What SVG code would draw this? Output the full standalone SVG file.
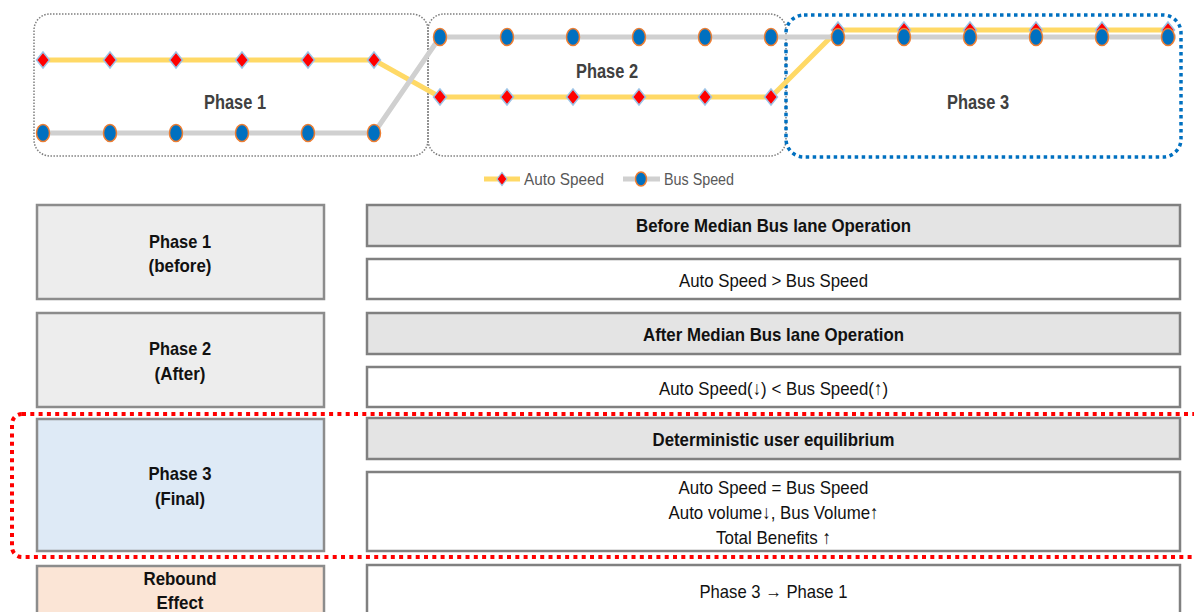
<svg xmlns="http://www.w3.org/2000/svg" width="1194" height="612" viewBox="0 0 1194 612">
<style>
.phbox{fill:none;stroke:#7f7f7f;stroke-width:1.5;stroke-dasharray:1.5 1.5}
.ph3box{fill:none;stroke:#0070C0;stroke-width:3.5;stroke-dasharray:3.5 3.5}
.plabel{font-family:"Liberation Sans",Arial,sans-serif;font-weight:bold;font-size:20px;fill:#404040;text-anchor:middle}
.auto{fill:none;stroke:#FFD966;stroke-width:5}
.bus{fill:none;stroke:#D0D0D0;stroke-width:5}
.leg{font-family:"Liberation Sans",Arial,sans-serif;font-size:16px;fill:#595959}
.lbox{stroke:#8c8c8c;stroke-width:2.5}
.hbox{fill:#E4E4E4;stroke:#808080;stroke-width:2.5}
.cbox{fill:#FFFFFF;stroke:#808080;stroke-width:2.5}
.tb{font-family:"Liberation Sans",Arial,sans-serif;font-weight:bold;font-size:19px;fill:#111;text-anchor:middle}
.tr{font-family:"Liberation Sans",Arial,sans-serif;font-size:19px;fill:#111;text-anchor:middle}
.redbox{fill:none;stroke:#FF0000;stroke-width:4;stroke-dasharray:4 4.3}
</style>
<defs>
<path id="dia" d="M0,-8 L6.5,0 L0,8 L-6.5,0 Z" fill="#FF0000" stroke="#9DC3E6" stroke-width="1.5"/>
<ellipse id="dot" cx="0" cy="0" rx="6.5" ry="8.5" fill="#0070C0" stroke="#ED7D31" stroke-width="1.5"/>
<path id="diaS" d="M0,-6.5 L5,0 L0,6.5 L-5,0 Z" fill="#FF0000" stroke="#9DC3E6" stroke-width="1.2"/>
<ellipse id="dotS" cx="0" cy="0" rx="5.5" ry="7" fill="#0070C0" stroke="#ED7D31" stroke-width="1.5"/>
</defs>
<rect width="1194" height="612" fill="#FFFFFF"/>

<!-- top phase boxes -->
<g id="phase1-area">
<rect class="phbox" x="34" y="14" width="394" height="142" rx="16"/>
<text class="plabel" x="235" y="109" textLength="62" lengthAdjust="spacingAndGlyphs">Phase 1</text>
</g>
<g id="phase2-area">
<rect class="phbox" x="428" y="14" width="358" height="142" rx="16"/>
<text class="plabel" x="607" y="78" textLength="62" lengthAdjust="spacingAndGlyphs">Phase 2</text>
</g>
<g id="phase3-area">
<rect class="ph3box" x="786" y="15" width="395" height="142" rx="18"/>
<text class="plabel" x="978" y="109" textLength="62" lengthAdjust="spacingAndGlyphs">Phase 3</text>
</g>

<!-- speed series -->
<g id="connectors">
<polyline class="auto" points="43,60 374,60 440,97 771,97 838,30 1168,30"/>
<polyline class="bus" points="43,133 374,133 440,37 1176,37"/>
</g>
<g id="auto-markers">
<use href="#dia" x="43" y="60"/><use href="#dia" x="110" y="60"/><use href="#dia" x="176" y="60"/><use href="#dia" x="242" y="60"/><use href="#dia" x="308" y="60"/><use href="#dia" x="374" y="60"/>
<use href="#dia" x="440" y="97"/><use href="#dia" x="507" y="97"/><use href="#dia" x="573" y="97"/><use href="#dia" x="639" y="97"/><use href="#dia" x="705" y="97"/><use href="#dia" x="771" y="97"/>
<use href="#dia" x="838" y="30"/><use href="#dia" x="904" y="30"/><use href="#dia" x="970" y="30"/><use href="#dia" x="1036" y="30"/><use href="#dia" x="1102" y="30"/><use href="#dia" x="1168" y="30"/>
</g>
<g id="bus-markers">
<use href="#dot" x="43" y="133"/><use href="#dot" x="110" y="133"/><use href="#dot" x="176" y="133"/><use href="#dot" x="242" y="133"/><use href="#dot" x="308" y="133"/><use href="#dot" x="374" y="133"/>
<use href="#dot" x="440" y="37"/><use href="#dot" x="507" y="37"/><use href="#dot" x="573" y="37"/><use href="#dot" x="639" y="37"/><use href="#dot" x="705" y="37"/><use href="#dot" x="771" y="37"/>
<use href="#dot" x="838" y="37"/><use href="#dot" x="904" y="37"/><use href="#dot" x="970" y="37"/><use href="#dot" x="1036" y="37"/><use href="#dot" x="1102" y="37"/><use href="#dot" x="1168" y="37"/>
</g>

<!-- legend -->
<g id="legend">
<line class="auto" x1="484" y1="179" x2="520" y2="179"/>
<use href="#diaS" x="502" y="179"/>
<text class="leg" x="524" y="185" textLength="80" lengthAdjust="spacingAndGlyphs">Auto Speed</text>
<line class="bus" x1="623" y1="179" x2="660" y2="179"/>
<use href="#dotS" x="641" y="179"/>
<text class="leg" x="664" y="185" textLength="70" lengthAdjust="spacingAndGlyphs">Bus Speed</text>
</g>

<!-- table left column -->
<g id="row1-label">
<rect class="lbox" x="37" y="205" width="287" height="94" fill="#EDEDED"/>
<text class="tb" x="180" y="248" textLength="62" lengthAdjust="spacingAndGlyphs">Phase 1</text>
<text class="tb" x="180" y="272" textLength="63" lengthAdjust="spacingAndGlyphs">(before)</text>
</g>
<g id="row2-label">
<rect class="lbox" x="37" y="313" width="287" height="94" fill="#EDEDED"/>
<text class="tb" x="180" y="355" textLength="62" lengthAdjust="spacingAndGlyphs">Phase 2</text>
<text class="tb" x="180" y="380" textLength="51" lengthAdjust="spacingAndGlyphs">(After)</text>
</g>
<g id="row3-label">
<rect class="lbox" x="37" y="419" width="287" height="132" fill="#DEEAF6"/>
<text class="tb" x="180" y="480" textLength="63" lengthAdjust="spacingAndGlyphs">Phase 3</text>
<text class="tb" x="180" y="505" textLength="50" lengthAdjust="spacingAndGlyphs">(Final)</text>
</g>
<g id="row4-label">
<rect class="lbox" x="37" y="566" width="287" height="60" fill="#FBE5D6"/>
<text class="tb" x="180" y="585" textLength="73" lengthAdjust="spacingAndGlyphs">Rebound</text>
<text class="tb" x="180" y="609" textLength="47" lengthAdjust="spacingAndGlyphs">Effect</text>
</g>

<!-- table right column -->
<g id="row1-header">
<rect class="hbox" x="367" y="205" width="813" height="41"/>
<text class="tb" x="773.5" y="232" textLength="275" lengthAdjust="spacingAndGlyphs">Before Median Bus lane Operation</text>
</g>
<g id="row1-content">
<rect class="cbox" x="367" y="259" width="813" height="40"/>
<text class="tr" x="773.5" y="287" textLength="189" lengthAdjust="spacingAndGlyphs">Auto Speed &gt; Bus Speed</text>
</g>
<g id="row2-header">
<rect class="hbox" x="367" y="313" width="813" height="41"/>
<text class="tb" x="773.5" y="341" textLength="261" lengthAdjust="spacingAndGlyphs">After Median Bus lane Operation</text>
</g>
<g id="row2-content">
<rect class="cbox" x="367" y="367" width="813" height="40"/>
<text class="tr" x="773.5" y="395" textLength="229" lengthAdjust="spacingAndGlyphs">Auto Speed(↓) &lt; Bus Speed(↑)</text>
</g>
<g id="row3-header">
<rect class="hbox" x="367" y="418" width="813" height="41"/>
<text class="tb" x="773.5" y="446" textLength="242" lengthAdjust="spacingAndGlyphs">Deterministic user equilibrium</text>
</g>
<g id="row3-content">
<rect class="cbox" x="367" y="472" width="813" height="79"/>
<text class="tr" x="773.5" y="494" textLength="190" lengthAdjust="spacingAndGlyphs">Auto Speed = Bus Speed</text>
<text class="tr" x="773.5" y="519" textLength="210" lengthAdjust="spacingAndGlyphs">Auto volume↓, Bus Volume↑</text>
<text class="tr" x="773.5" y="544" textLength="115" lengthAdjust="spacingAndGlyphs">Total Benefits ↑</text>
</g>
<g id="row4-content">
<rect class="cbox" x="367" y="565" width="813" height="60"/>
<text class="tr" x="773.5" y="598" textLength="148" lengthAdjust="spacingAndGlyphs">Phase 3 → Phase 1</text>
</g>

<!-- highlight -->
<g id="phase3-highlight">
<rect class="redbox" x="12" y="414" width="1200" height="143" rx="10"/>
</g>
</svg>
